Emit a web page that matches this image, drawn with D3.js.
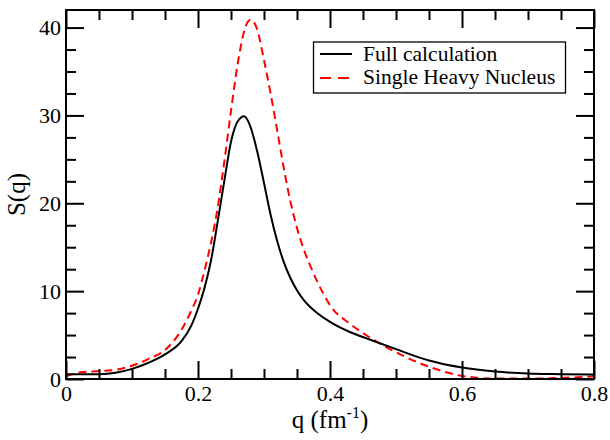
<!DOCTYPE html>
<html>
<head>
<meta charset="utf-8">
<script src="https://cdn.jsdelivr.net/npm/d3@7/dist/d3.min.js"></script>
<style>
  html, body { margin: 0; padding: 0; background: #fff; }
  svg text { font-family: "Liberation Serif", "DejaVu Serif", "Times New Roman", Times, serif; }
</style>
</head>
<body>
<svg id="chart" width="610" height="440"></svg>
<script>
// ---- Data ----
const qFull = [0, 0.025, 0.05, 0.075, 0.1, 0.125, 0.15, 0.175, 0.19, 0.2, 0.21, 0.22, 0.23, 0.24, 0.25, 0.26, 0.27, 0.28, 0.29, 0.30, 0.31, 0.32, 0.33, 0.34, 0.35, 0.36, 0.37, 0.38, 0.40, 0.43, 0.46, 0.50, 0.55, 0.60, 0.65, 0.70, 0.75, 0.80];
const sFull = [0.55, 0.55, 0.55, 0.7, 1.15, 1.85, 2.8, 4.3, 6.1, 8.0, 10.4, 13.6, 18.0, 22.6, 27.0, 29.3, 29.9, 28.6, 25.8, 22.3, 18.7, 15.7, 13.3, 11.5, 10.1, 9.0, 8.2, 7.55, 6.5, 5.35, 4.5, 3.4, 2.1, 1.3, 0.85, 0.62, 0.55, 0.5];

const qSingle = [0, 0.025, 0.05, 0.075, 0.1, 0.125, 0.15, 0.175, 0.19, 0.2, 0.21, 0.22, 0.23, 0.24, 0.25, 0.26, 0.27, 0.275, 0.28, 0.285, 0.29, 0.30, 0.31, 0.32, 0.33, 0.34, 0.35, 0.36, 0.37, 0.38, 0.39, 0.40, 0.43, 0.46, 0.50, 0.55, 0.60, 0.65, 0.70, 0.75, 0.80];
const sSingle = [0.3, 0.8, 0.9, 1.05, 1.5, 2.3, 3.3, 5.6, 7.8, 9.6, 12.4, 15.6, 19.6, 24.8, 30.5, 35.8, 39.6, 40.6, 40.9, 40.6, 39.7, 36.3, 32.5, 28.3, 24.0, 20.2, 17.2, 14.8, 12.9, 11.2, 9.7, 8.4, 6.3, 4.75, 3.05, 1.4, 0.35, 0.05, 0.05, 0.12, 0.3];

const seriesNames = ["Full calculation", "Single Heavy Nucleus"];
const xTickLabels = [0, 0.2, 0.4, 0.6, 0.8];
const yTickLabels = [0, 10, 20, 30, 40];
const xMinorTicks = [0.05, 0.1, 0.15, 0.25, 0.3, 0.35, 0.45, 0.5, 0.55, 0.65, 0.7, 0.75];
const yMinorTicks = [2.5, 5, 7.5, 12.5, 15, 17.5, 22.5, 25, 27.5, 32.5, 35, 37.5];

// ---- Layout ----
const FONT = '"Liberation Serif", "DejaVu Serif", "Times New Roman", Times, serif';
const L = 66, R = 594, T = 10, B = 379;
const svg = d3.select("#chart");

const x = d3.scaleLinear().domain([0, 0.8]).range([L, R]);
const y = d3.scaleLinear().domain([0, 42]).range([B, T]);

const fmtX = d => d === 0 ? "0" : d3.format(".1f")(d);

svg.append("clipPath").attr("id", "clip")
  .append("rect").attr("x", L).attr("y", T).attr("width", R - L).attr("height", B - T);

const line = d3.line().x(d => x(d[0])).y(d => y(d[1])).curve(d3.curveMonotoneX);

const g = svg.append("g").attr("clip-path", "url(#clip)");
g.append("path")
  .datum(qSingle.map((q, i) => [q, sSingle[i]]))
  .attr("d", line).attr("fill", "none")
  .attr("stroke", "#ff0000").attr("stroke-width", 2)
  .attr("stroke-dasharray", "8,5");
g.append("path")
  .datum(qFull.map((q, i) => [q, sFull[i]]))
  .attr("d", line).attr("fill", "none")
  .attr("stroke", "#000").attr("stroke-width", 2);

function styleAxis(sel) {
  sel.attr("font-family", FONT);
  sel.select(".domain").remove();
  sel.selectAll(".tick line").attr("stroke", "#000").attr("stroke-width", 2);
  sel.selectAll(".tick text").attr("fill", "#000").attr("font-family", FONT)
     .style("font-family", FONT).style("font-size", "22px");
}

const MAJ = 18, MIN = 10;
svg.append("g").attr("transform", `translate(0,${B})`)
  .call(d3.axisBottom(x).tickValues(xTickLabels).tickFormat(fmtX).tickSize(-MAJ).tickPadding(6))
  .call(styleAxis);
svg.append("g").attr("transform", `translate(0,${B})`)
  .call(d3.axisBottom(x).tickValues(xMinorTicks).tickFormat("").tickSize(-MIN))
  .call(styleAxis);
svg.append("g").attr("transform", `translate(0,${T})`)
  .call(d3.axisTop(x).tickValues(xTickLabels).tickFormat("").tickSize(-MAJ))
  .call(styleAxis);
svg.append("g").attr("transform", `translate(0,${T})`)
  .call(d3.axisTop(x).tickValues(xMinorTicks).tickFormat("").tickSize(-MIN))
  .call(styleAxis);
svg.append("g").attr("transform", `translate(${L},0)`)
  .call(d3.axisLeft(y).tickValues(yTickLabels).tickFormat(d3.format("d")).tickSize(-MAJ).tickPadding(5))
  .call(styleAxis);
svg.append("g").attr("transform", `translate(${L},0)`)
  .call(d3.axisLeft(y).tickValues(yMinorTicks).tickFormat("").tickSize(-MIN))
  .call(styleAxis);
svg.append("g").attr("transform", `translate(${R},0)`)
  .call(d3.axisRight(y).tickValues(yTickLabels).tickFormat("").tickSize(-MAJ))
  .call(styleAxis);
svg.append("g").attr("transform", `translate(${R},0)`)
  .call(d3.axisRight(y).tickValues(yMinorTicks).tickFormat("").tickSize(-MIN))
  .call(styleAxis);

svg.append("rect").attr("x", L).attr("y", T).attr("width", R - L).attr("height", B - T)
  .attr("fill", "none").attr("stroke", "#000").attr("stroke-width", 2);

// Axis titles
const xt = svg.append("text").attr("x", (L + R) / 2).attr("y", 428)
  .attr("text-anchor", "middle").attr("font-family", FONT).style("font-size", "25px").attr("fill", "#000");
xt.append("tspan").text("q (fm");
xt.append("tspan").attr("dy", -10).style("font-size", "16px").text("-1");
xt.append("tspan").attr("dy", 10).text(")");

svg.append("text")
  .attr("transform", `translate(25,${(T + B) / 2}) rotate(-90)`)
  .attr("text-anchor", "middle").attr("font-family", FONT).style("font-size", "25px").attr("fill", "#000")
  .text("S(q)");

// Legend
const leg = svg.append("g");
leg.append("rect").attr("x", 313.5).attr("y", 42).attr("width", 252).attr("height", 51)
  .attr("fill", "#fff").attr("stroke", "#000").attr("stroke-width", 1.3);
const legY = [54, 78], legBase = [61, 84];
const legStyles = [{stroke: "#000", dash: null}, {stroke: "#ff0000", dash: "11,7"}];
seriesNames.forEach((name, i) => {
  leg.append("line").attr("x1", 320).attr("x2", 352).attr("y1", legY[i]).attr("y2", legY[i])
    .attr("stroke", legStyles[i].stroke).attr("stroke-width", 2)
    .attr("stroke-dasharray", legStyles[i].dash);
  leg.append("text").attr("x", 363).attr("y", legBase[i]).attr("font-family", FONT)
    .style("font-size", "21.5px").attr("fill", "#000").text(name);
});
</script>
</body>
</html>
